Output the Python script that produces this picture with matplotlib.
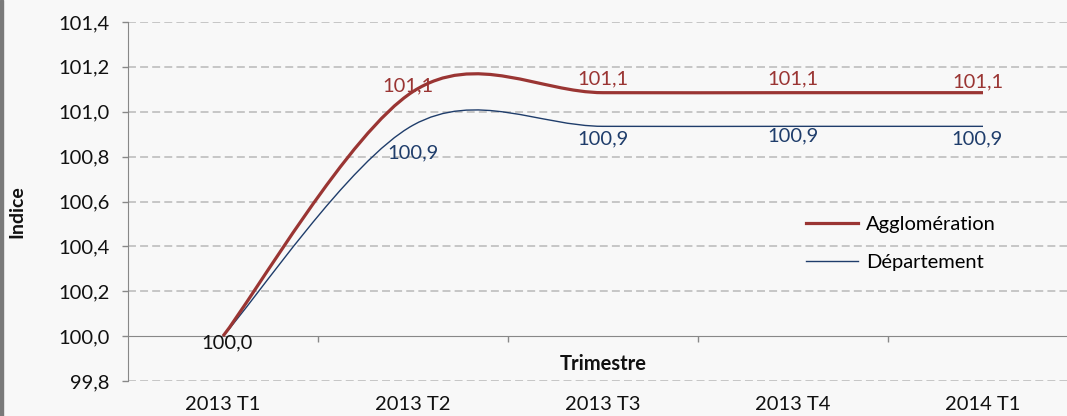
import numpy as np
import matplotlib
matplotlib.use('Agg')
import matplotlib.pyplot as plt
from matplotlib.path import Path
from matplotlib.patches import PathPatch, Rectangle
from matplotlib.lines import Line2D

### Data
trimestres = ['2013 T1', '2013 T2', '2013 T3', '2013 T4', '2014 T1']
agglomeration = [100.0, 101.09, 101.085, 101.085, 101.085]
departement = [100.0, 100.94, 100.935, 100.935, 100.935]
y_ticks = [99.8, 100.0, 100.2, 100.4, 100.6, 100.8, 101.0, 101.2, 101.4]

### Label offsets (points) for data labels
agglo_off = [None, (-4, 4), (0, 10), (0, 10), (-4, 8)]
dept_off = [None, (0, -20), (0, -9), (0, -7), (-4, -9)]

RED = '#9a3533'
BLUE = '#1f3d6b'
BG = '#f8f8f8'

plt.rcParams['font.family'] = ['Lato', 'DejaVu Sans']
plt.rcParams['font.size'] = 14.5


def fr(v):
    return ('%.1f' % v).replace('.', ',')


### Excel-like smoothed line through the points (cubic bezier)
def smooth_path(xs, ys):
    pts = np.column_stack([xs, ys]).astype(float)
    n = len(pts)
    verts = [pts[0]]
    codes = [Path.MOVETO]
    for i in range(n - 1):
        p_prev = pts[max(i - 1, 0)]
        p_next = pts[min(i + 2, n - 1)]
        c1 = pts[i] + (pts[i + 1] - p_prev) / 6
        c2 = pts[i + 1] - (p_next - pts[i]) / 6
        verts += [c1, c2, pts[i + 1]]
        codes += [Path.CURVE4] * 3
    return Path(verts, codes)


fig = plt.figure(figsize=(10.67, 4.16), dpi=100, facecolor=BG)
ax = fig.add_axes([128 / 1067, 1 - 381 / 416, 950 / 1067, 359 / 416])
ax.set_facecolor(BG)

x = np.arange(len(trimestres))
ax.add_patch(PathPatch(smooth_path(x, agglomeration), fill=False, color=RED, lw=2.3, zorder=4, capstyle='butt'))
ax.add_patch(PathPatch(smooth_path(x, departement), fill=False, color=BLUE, lw=1.0, zorder=3, capstyle='butt'))

ax.set_xlim(-0.5, 4.5)
ax.set_ylim(99.8, 101.4)

### grid
for v in y_ticks:
    if v != 100.0:
        ax.axhline(v, color='#c2c2c2', lw=1.3, ls=(0, (4.4, 2.3)), zorder=1)

ax.set_yticks(y_ticks)
ax.set_yticklabels([fr(v) for v in y_ticks])
ax.tick_params(axis='y', direction='out', length=4.5, width=1, color='#888888', pad=9, labelcolor='#111111')

ax.spines['top'].set_visible(False)
ax.spines['right'].set_visible(False)
ax.spines['left'].set_color('#888888')
ax.spines['bottom'].set_color('#888888')
ax.spines['bottom'].set_position(('data', 100.0))
ax.spines['bottom'].set_zorder(2)

ax.set_xticks(x)
ax.set_xticklabels(trimestres)
ax.set_xticks(x[:-1] + 0.5, minor=True)
ax.tick_params(axis='x', which='major', length=0, pad=43, labelcolor='#111111')
ax.tick_params(axis='x', which='minor', direction='out', length=4.5, width=1, color='#888888')

### data labels
ax.annotate(fr(agglomeration[0]), (x[0], agglomeration[0]), xytext=(3, -5), textcoords='offset points',
            ha='center', va='center', color='#111111', zorder=5)
for i in range(1, len(x)):
    ax.annotate(fr(agglomeration[i]), (x[i], agglomeration[i]), xytext=agglo_off[i], textcoords='offset points',
                ha='center', va='center', color=RED, zorder=5)
    ax.annotate(fr(departement[i]), (x[i], departement[i]), xytext=dept_off[i], textcoords='offset points',
                ha='center', va='center', color=BLUE, zorder=5)

ax.text(0.5, 0.047, 'Trimestre', transform=ax.transAxes, ha='center', va='center',
        fontweight='bold', fontsize=14.5, color='#111111')
fig.text(17 / 1067, 1 - 212 / 416, 'Indice', rotation=90, ha='center', va='center',
         fontweight='bold', fontsize=14, color='#111111')

handles = [Line2D([], [], color=RED, lw=2.3), Line2D([], [], color=BLUE, lw=1.0)]
fig.legend(handles, ['Agglomération', 'Département'], loc='upper left',
           bbox_to_anchor=(806 / 1067, 1 - 216 / 416), frameon=False, borderpad=0,
           borderaxespad=0, handlelength=2.6, handletextpad=0.4, labelspacing=1.05,
           fontsize=14.5)

### gray strip on the left edge
fig.patches.append(Rectangle((0, 0), 3 / 1067, 1, transform=fig.transFigure, color='#7a7a7a', zorder=0))

fig.savefig('out.png', dpi=100, facecolor=BG)
